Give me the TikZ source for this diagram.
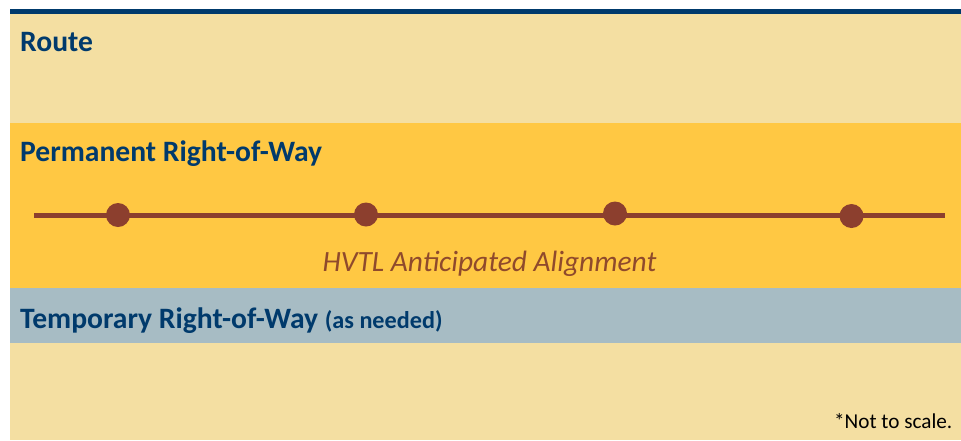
\documentclass[tikz,border=0pt]{standalone}
\usepackage{fontspec}
\setmainfont{Carlito}
\definecolor{sand}{HTML}{F4DFA2}
\definecolor{amber}{HTML}{FFC843}
\definecolor{slate}{HTML}{A7BCC4}
\definecolor{navy}{HTML}{003A6C}
\definecolor{rust}{HTML}{8C3F2E}
\definecolor{rusttext}{HTML}{8F4A2C}
\tikzset{
  band/.style={fill=#1, draw=none},
  title/.style={anchor=base west, inner sep=0pt, text=navy, font=\fontsize{29.6}{32}\selectfont\bfseries},
  pole/.style={circle, fill=rust, draw=none, minimum size=24pt, inner sep=0pt},
  wire/.style={draw=rust, line width=5.5pt},
}
\begin{document}
\begin{tikzpicture}[x=1pt, y=-1pt]
  \useasboundingbox (0,0) rectangle (961,440);
  \fill[white] (0,0) rectangle (961,440);
  % corridor bands
  \fill[band=sand]  (10,13)  rectangle (961,123);
  \fill[band=amber] (10,123) rectangle (961,288);
  \fill[band=slate] (10,288) rectangle (961,343);
  \fill[band=sand]  (10,343) rectangle (961,440);
  \fill[navy] (10,9) rectangle (961,13.5);
  % band titles
  \node[title] (route) at (20,51.5) {Route};
  \node[title] (perm) at (20,161) {Permanent Right-of-Way};
  \node[title] (temp) at (20,328.5) {Temporary Right-of-Way {\fontsize{24.2}{26}\selectfont(as needed)}};
  % transmission line with structures
  \coordinate (west) at (34,215.5);
  \coordinate (east) at (945,215.5);
  \draw[wire] (west) -- (east);
  \node[pole] (p1) at (118,215) {};
  \node[pole] (p2) at (366,214.5) {};
  \node[pole] (p3) at (615,213.5) {};
  \node[pole] (p4) at (851.5,216) {};
  \node[anchor=base, inner sep=0pt, text=rusttext, font=\fontsize{29.4}{31}\selectfont\itshape] (hvtl) at (489.5,271.5) {HVTL Anticipated Alignment};
  \node[anchor=base east, inner sep=0pt, text=black, font=\fontsize{21.2}{23}\selectfont] (note) at (952.5,428) {*Not to scale.};
\end{tikzpicture}
\end{document}
